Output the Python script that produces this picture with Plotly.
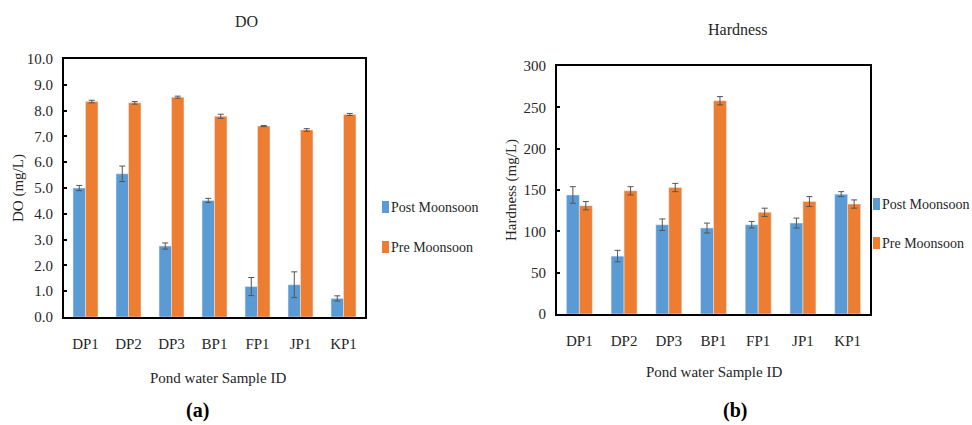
import plotly.graph_objects as go

categories = ["DP1", "DP2", "DP3", "BP1", "FP1", "JP1", "KP1"]
series_names = ["Post Moonsoon", "Pre Moonsoon"]

do_post = [5.0, 5.55, 2.75, 4.52, 1.18, 1.25, 0.72]
do_post_err = [0.1, 0.3, 0.12, 0.08, 0.35, 0.5, 0.1]
do_pre = [8.35, 8.3, 8.52, 7.78, 7.4, 7.25, 7.85]
do_pre_err = [0.05, 0.05, 0.04, 0.08, 0.02, 0.05, 0.04]

hard_post = [144, 70, 108, 104, 108, 110, 145]
hard_post_err = [10, 7, 7, 6, 4, 6, 3]
hard_pre = [131, 149, 153, 258, 123, 136, 133]
hard_pre_err = [5, 5, 5, 5, 5, 6, 5]

BLUE = "#5B9BD5"
ORANGE = "#ED7D31"
COLORS = [BLUE, ORANGE]
FONT = "Liberation Serif, Times New Roman, DejaVu Serif, serif"
ERR_COLOR = "#555555"
TXT = "#262626"
W, H = 972, 425

fig = go.Figure()

def err(vals):
    return dict(type="data", array=vals, visible=True, color=ERR_COLOR, thickness=1, width=3)

fig.add_trace(go.Bar(x=categories, y=do_post, name=series_names[0], marker_color=BLUE,
                     error_y=err(do_post_err), xaxis="x", yaxis="y", showlegend=False))
fig.add_trace(go.Bar(x=categories, y=do_pre, name=series_names[1], marker_color=ORANGE,
                     error_y=err(do_pre_err), xaxis="x", yaxis="y", showlegend=False))
fig.add_trace(go.Bar(x=categories, y=hard_post, name=series_names[0], marker_color=BLUE,
                     error_y=err(hard_post_err), xaxis="x2", yaxis="y2", showlegend=False))
fig.add_trace(go.Bar(x=categories, y=hard_pre, name=series_names[1], marker_color=ORANGE,
                     error_y=err(hard_pre_err), xaxis="x2", yaxis="y2", showlegend=False))

TICKFONT = dict(family=FONT, size=15, color=TXT)

xcommon = dict(showline=True, linecolor="black", linewidth=2, mirror=True,
               showgrid=False, zeroline=False, ticks="", tickfont=TICKFONT, ticklabelstandoff=12)
ycommon = dict(showline=True, linecolor="black", linewidth=2, mirror=True,
               showgrid=False, zeroline=False, ticks="inside", ticklen=3, tickcolor="black",
               tickwidth=1.5, tickfont=TICKFONT, ticklabelstandoff=6)


def px(x):
    return x / W


def py(y):
    return 1 - y / H


fig.update_layout(
    width=W, height=H,
    margin=dict(l=0, r=0, t=0, b=0, autoexpand=False),
    paper_bgcolor="white", plot_bgcolor="white",
    barmode="group", bargap=0.42, bargroupgap=0.0,
    font=dict(family=FONT, size=15, color=TXT),
    xaxis=dict(domain=[px(64), px(365)], anchor="y", **xcommon),
    yaxis=dict(domain=[py(317), py(59)], anchor="x", range=[0, 10], dtick=1, tickformat=".1f", **ycommon),
    xaxis2=dict(domain=[px(557), px(870)], anchor="y2", **xcommon),
    yaxis2=dict(domain=[py(314), py(66)], anchor="x2", range=[0, 300], dtick=50, **ycommon),
    showlegend=False,
)

ann = [
    ("DO", 247, 22, 16, 0, False),
    ("Hardness", 738, 30, 16, 0, False),
    ("Pond water Sample ID", 218, 378, 15, 0, False),
    ("Pond water Sample ID", 714, 372, 15, 0, False),
    ("DO (mg/L)", 18, 188, 15, -90, False),
    ("Hardness (mg/L)", 512, 190, 15, -90, False),
    ("(a)", 197, 410, 20, 0, True),
    ("(b)", 735, 410, 20, 0, True),
]
for text, x, y, size, angle, bold in ann:
    fig.add_annotation(text=f"<b>{text}</b>" if bold else text, x=px(x), y=py(y),
                       xref="paper", yref="paper", xanchor="center", yanchor="middle",
                       showarrow=False, textangle=angle,
                       font=dict(family=FONT, size=size, color="black" if bold else TXT))

# legends (swatch + label) for each panel
legend_spots = [
    (382, 389, [207, 247]),
    (873, 880, [204, 243]),
]
for sx, tx, ys in legend_spots:
    for name, color, yy in zip(series_names, COLORS, ys):
        fig.add_shape(type="rect", xref="paper", yref="paper",
                      x0=px(sx), x1=px(sx + 7), y0=py(yy + 6), y1=py(yy - 6),
                      fillcolor=color, line=dict(width=0))
        fig.add_annotation(text=name, x=px(tx), y=py(yy), xref="paper", yref="paper",
                           xanchor="left", yanchor="middle", showarrow=False,
                           font=dict(family=FONT, size=14, color=TXT))

fig.write_html("out.html", config={"displayModeBar": False},
               post_script="document.body.style.margin='0';")
